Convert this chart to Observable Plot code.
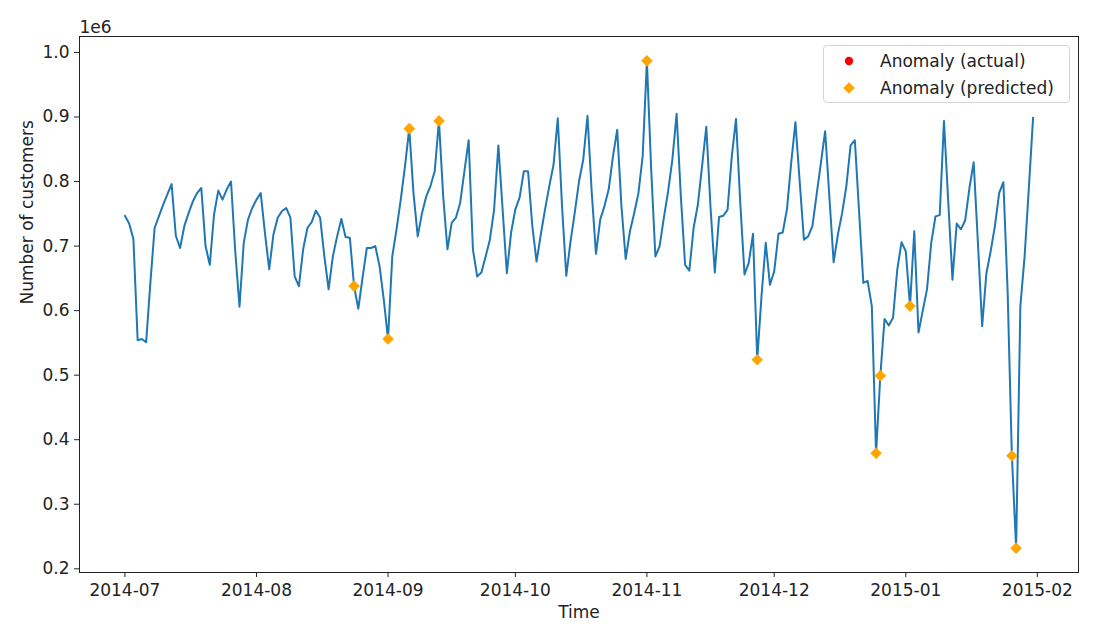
<!DOCTYPE html>
<html><head><meta charset="utf-8">
<script src="https://cdn.jsdelivr.net/npm/d3@7"></script>
<script src="https://cdn.jsdelivr.net/npm/@observablehq/plot@0.6"></script>
<style>
body{margin:0;background:#fff;font-family:"DejaVu Sans",sans-serif;}
#wrap{position:relative;width:1100px;height:641px;}
.legend{position:absolute;left:823px;top:45px;width:247px;height:58px;border:1px solid #d4d4d4;border-radius:4px;background:rgba(255,255,255,0.85);box-sizing:border-box;font-size:17px;color:#222;}
.legend .row{position:absolute;left:0;height:20px;line-height:20px;white-space:nowrap;}
.legend svg{position:absolute;left:15px;top:0;}
.legend span{position:absolute;left:56px;top:0;}
</style></head><body><div id="wrap"></div>
<script>
// Daily series, values in millions of customers (axis shows 1e6)
const startDate = "2014-07-01";
const customers = [
0.747,0.735,0.711,0.554,0.556,0.551,0.643,0.728,0.746,0.764,0.780,0.796,0.716,0.697,
0.731,0.751,0.769,0.782,0.790,0.700,0.671,0.749,0.786,0.772,0.788,0.800,0.692,0.606,
0.705,0.741,0.759,0.772,0.782,0.720,0.664,0.718,0.744,0.754,0.759,0.744,0.653,0.638,
0.695,0.728,0.737,0.755,0.744,0.684,0.633,0.684,0.715,0.742,0.714,0.713,0.638,0.603,
0.651,0.697,0.697,0.700,0.669,0.617,0.556,0.684,0.726,0.772,0.824,0.882,0.782,0.715,
0.751,0.777,0.793,0.816,0.894,0.777,0.695,0.736,0.744,0.767,0.816,0.864,0.695,0.653,
0.659,0.684,0.710,0.757,0.856,0.757,0.658,0.721,0.757,0.775,0.816,0.816,0.731,0.676,
0.718,0.757,0.793,0.826,0.898,0.762,0.654,0.707,0.752,0.800,0.834,0.902,0.783,0.688,
0.741,0.762,0.788,0.839,0.880,0.762,0.680,0.723,0.751,0.782,0.839,0.987,0.820,0.684,
0.700,0.744,0.785,0.834,0.905,0.777,0.671,0.662,0.728,0.764,0.824,0.885,0.759,0.659,
0.745,0.747,0.756,0.839,0.897,0.767,0.656,0.674,0.719,0.524,0.622,0.705,0.640,0.661,
0.719,0.721,0.757,0.829,0.892,0.800,0.710,0.715,0.731,0.780,0.829,0.878,0.776,0.675,
0.718,0.751,0.793,0.856,0.864,0.753,0.643,0.646,0.607,0.379,0.499,0.587,0.577,0.589,
0.664,0.706,0.692,0.607,0.723,0.566,0.600,0.633,0.705,0.746,0.748,0.894,0.770,0.648,
0.735,0.726,0.740,0.790,0.830,0.705,0.576,0.658,0.692,0.731,0.782,0.799,0.630,0.375,
0.232,0.607,0.684,0.790,0.899
];
const anomalyActualDates = [];
const anomalyPredictedDates = ["2014-08-24","2014-09-01","2014-09-06","2014-09-13","2014-11-01",
  "2014-11-27","2014-12-25","2014-12-26","2015-01-02","2015-01-26","2015-01-27"];
const xTickLabels = ["2014-07","2014-08","2014-09","2014-10","2014-11","2014-12","2015-01","2015-02"];
const yTicks = [0.2,0.3,0.4,0.5,0.6,0.7,0.8,0.9,1.0];
const legendLabels = ["Anomaly (actual)","Anomaly (predicted)"];

const t0 = d3.utcParse("%Y-%m-%d")(startDate);
const series = customers.map((v, i) => ({date: d3.utcDay.offset(t0, i), value: v}));
const byDate = new Map(series.map(d => [d3.utcFormat("%Y-%m-%d")(d.date), d]));
const predicted = anomalyPredictedDates.map(s => byDate.get(s));
const actual = anomalyActualDates.map(s => byDate.get(s));
const xTicks = xTickLabels.map(s => d3.utcParse("%Y-%m")(s));

// matplotlib-like 5% margins
const [xa, xb] = d3.extent(series, d => +d.date);
const [ya, yb] = d3.extent(series, d => d.value);
const xDomain = [new Date(xa - (xb - xa) * 0.05), new Date(xb + (xb - xa) * 0.05)];
const yDomain = [ya - (yb - ya) * 0.05, yb + (yb - ya) * 0.05];

const ink = "#222";
const chart = Plot.plot({
  width: 1100, height: 641,
  marginLeft: 79, marginRight: 22, marginTop: 36, marginBottom: 69,
  style: {fontFamily: "DejaVu Sans, sans-serif", fontSize: "17px", color: ink, background: "#fff"},
  x: {type: "utc", domain: xDomain},
  y: {domain: yDomain},
  marks: [
    Plot.axisX({ticks: xTicks, tickFormat: d3.utcFormat("%Y-%m"), tickSize: 5, tickPadding: 6, fontSize: 17, label: null, stroke: ink}),
    Plot.axisY({ticks: yTicks, tickFormat: ".1f", tickSize: 5, tickPadding: 5, fontSize: 17, label: null, stroke: ink}),
    Plot.line(series, {x: "date", y: "value", stroke: "#1f77b4", strokeWidth: 2}),
    Plot.dot(actual, {x: "date", y: "value", r: 4, fill: "red"}),
    Plot.dot(predicted, {x: "date", y: "value", symbol: "diamond2", r: 5.2, fill: "orange", stroke: null}),
    Plot.frame({stroke: ink, strokeWidth: 1}),
    Plot.text(["Time"], {frameAnchor: "bottom", dy: 40, fontSize: 17, fill: ink, lineAnchor: "middle"}),
    Plot.text(["Number of customers"], {frameAnchor: "left", dx: -52, rotate: -90, fontSize: 17, fill: ink, lineAnchor: "middle"}),
    Plot.text(["1e6"], {frameAnchor: "top-left", dy: -9, dx: 0, textAnchor: "start", fontSize: 17, fill: ink, lineAnchor: "middle"})
  ]
});
const wrap = document.getElementById("wrap");
wrap.appendChild(chart);

// legend inside the axes
const lg = document.createElement("div");
lg.className = "legend";
const sym = [
  '<svg width="20" height="20"><circle cx="10" cy="10" r="4.2" fill="red"/></svg>',
  '<svg width="20" height="20"><path d="M10,4.2L15.8,10L10,15.8L4.2,10Z" fill="orange"/></svg>'
];
legendLabels.forEach((lab, i) => {
  const row = document.createElement("div");
  row.className = "row";
  row.style.top = (5 + i * 26.5) + "px";
  row.style.width = "100%";
  row.innerHTML = sym[i] + "<span>" + lab + "</span>";
  lg.appendChild(row);
});
wrap.appendChild(lg);
</script>
</body></html>
